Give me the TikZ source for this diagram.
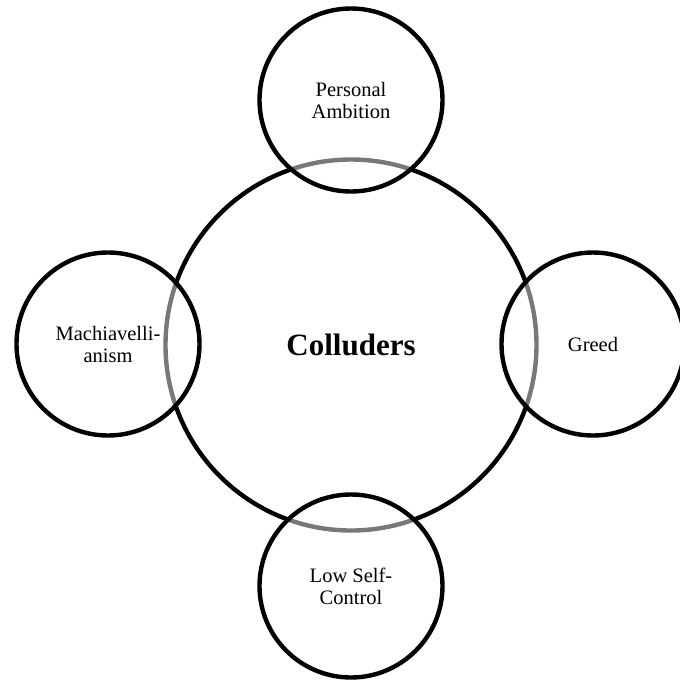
\documentclass[tikz,border=0pt]{standalone}
\usepackage{fontspec}
\setmainfont{Liberation Serif}
\begin{document}
\begin{tikzpicture}[x=1pt,y=-1pt,
  ring/.style={circle, draw=black, line width=4.4pt, inner sep=0pt, align=center},
  core/.style={ring, minimum size=371pt, font=\fontsize{31}{34}\selectfont\bfseries},
  trait/.style={ring, minimum size=183pt, fill=white, fill opacity=0.47, text opacity=1,
                font=\fontsize{20.5}{22}\selectfont}]
  \useasboundingbox (0,0) rectangle (680,681);
  % central construct
  \node[core] (colluders) at (351,345) {Colluders};
  % surrounding traits, drawn on top with a translucent white fill
  \node[trait] (ambition) at (351,100) {Personal\\Ambition};
  \node[trait] (mach) at (108,344) {Machiavelli-\\anism};
  \node[trait] (greed) at (593,344) {Greed};
  \node[trait] (selfcontrol) at (351,586) {Low Self-\\Control};
\end{tikzpicture}
\end{document}
